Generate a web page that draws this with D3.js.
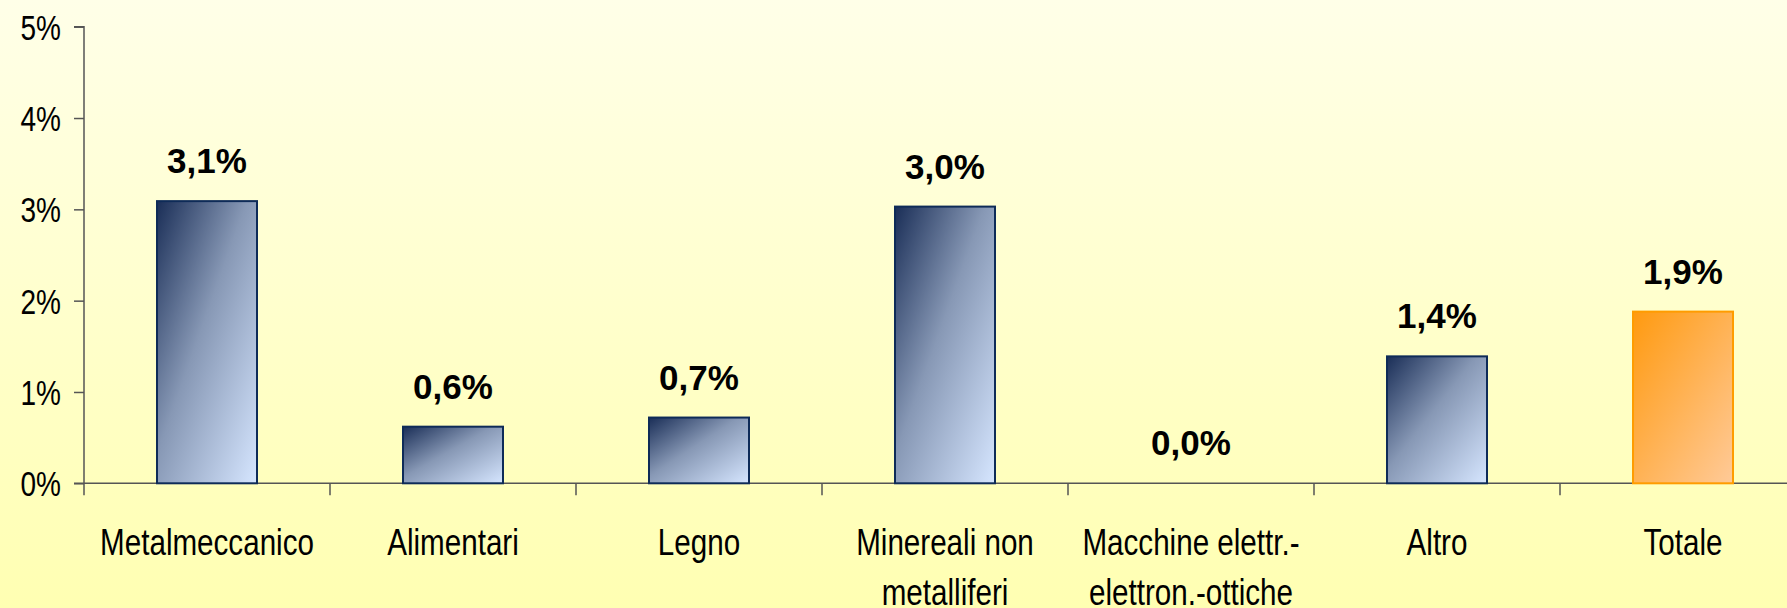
<!DOCTYPE html>
<html><head><meta charset="utf-8">
<script src="https://cdn.jsdelivr.net/npm/d3@7"></script>
<style>
html,body{margin:0;padding:0;background:#FFFFD0;}
svg{display:block;}
</style></head>
<body>
<svg id="chart" width="1787" height="608"></svg>
<script>
const categories = ["Metalmeccanico", "Alimentari", "Legno", "Minereali non\nmetalliferi", "Macchine elettr.-\nelettron.-ottiche", "Altro", "Totale"];
const values = [3.09, 0.62, 0.72, 3.03, 0.0, 1.39, 1.88];
const highlight = [false, false, false, false, false, false, true];
const yTicks = [0, 1, 2, 3, 4, 5];

const W = 1787, H = 608;
const svg = d3.select("#chart");
const defs = svg.append("defs");

const bg = defs.append("linearGradient").attr("id", "bg").attr("x1", 0).attr("y1", 0).attr("x2", 0).attr("y2", 1);
bg.append("stop").attr("offset", "0%").attr("stop-color", "#FFFFE8");
bg.append("stop").attr("offset", "100%").attr("stop-color", "#FFFFB2");

const gb = defs.append("linearGradient").attr("id", "gBlue").attr("x1", 0).attr("y1", 0).attr("x2", 1).attr("y2", 1);
gb.append("stop").attr("offset", "0%").attr("stop-color", "#1A2E57");
gb.append("stop").attr("offset", "45%").attr("stop-color", "#8798B5");
gb.append("stop").attr("offset", "100%").attr("stop-color", "#D6E6FF");

const go = defs.append("linearGradient").attr("id", "gOrange").attr("x1", 0).attr("y1", 0).attr("x2", 1).attr("y2", 1);
go.append("stop").attr("offset", "0%").attr("stop-color", "#FF9A10");
go.append("stop").attr("offset", "100%").attr("stop-color", "#FFCA98");

svg.append("rect").attr("width", W).attr("height", H).attr("fill", "url(#bg)");

const x0 = 84, bandW = 246;
const x = d3.scaleBand().domain(categories).range([x0, x0 + bandW * categories.length]).padding(0);
const y = d3.scaleLinear().domain([0, 5]).range([483.3, 26.7]);
const barW = 100;
const sx = 0.8;

const font = "'Liberation Sans', Arial, sans-serif";

// Y axis
const yAxis = svg.append("g").attr("transform", `translate(${x0},0)`)
  .call(d3.axisLeft(y).tickValues(yTicks).tickSize(10).tickPadding(13).tickFormat(d => d + "%"));
yAxis.select(".domain").attr("stroke", "#555").attr("stroke-width", 1.5).attr("d", `M-10,${y(5)}H0V${y(0) + 12}`);
yAxis.selectAll(".tick line").attr("stroke", "#555").attr("stroke-width", 1.5);
yAxis.selectAll(".tick text").attr("font-family", font).attr("font-size", 35).attr("fill", "#000")
  .attr("dy", "0.36em").attr("x", 0).attr("transform", `translate(-23,0) scale(${sx},1)`);

// X axis line + boundary ticks
const xg = svg.append("g");
xg.append("line").attr("x1", x0 - 10).attr("x2", W).attr("y1", y(0)).attr("y2", y(0)).attr("stroke", "#555").attr("stroke-width", 1.5);
xg.selectAll("line.bt").data(categories.slice(1)).join("line").attr("class", "bt")
  .attr("x1", d => x(d)).attr("x2", d => x(d)).attr("y1", y(0)).attr("y2", y(0) + 12)
  .attr("stroke", "#555").attr("stroke-width", 1.5);

// Bars
svg.selectAll("rect.bar").data(values).join("rect").attr("class", "bar")
  .attr("x", (d, i) => x(categories[i]) + x.bandwidth() / 2 - barW / 2)
  .attr("width", barW)
  .attr("y", d => y(d))
  .attr("height", d => y(0) - y(d))
  .attr("fill", (d, i) => highlight[i] ? "url(#gOrange)" : "url(#gBlue)")
  .attr("stroke", (d, i) => highlight[i] ? "#FF9C00" : "#0E2B58")
  .attr("stroke-width", 2)
  .attr("display", d => d > 0 ? null : "none");

// Value labels
const fmt = d3.format(".1f");
svg.selectAll("text.val").data(values).join("text").attr("class", "val")
  .attr("x", (d, i) => x(categories[i]) + x.bandwidth() / 2)
  .attr("y", d => y(d) - 28)
  .attr("text-anchor", "middle")
  .attr("font-family", font)
  .attr("font-weight", "bold").attr("font-size", 35).attr("fill", "#000")
  .text(d => fmt(d).replace(".", ",") + "%");

// Category labels
const cl = svg.selectAll("text.cat").data(categories).join("text").attr("class", "cat")
  .attr("transform", d => `translate(${x(d) + x.bandwidth() / 2},555) scale(${sx},1)`)
  .attr("text-anchor", "middle")
  .attr("font-family", font).attr("font-size", 37).attr("fill", "#000");
cl.selectAll("tspan").data(d => d.split("\n")).join("tspan")
  .attr("x", 0)
  .attr("dy", (d, i) => i === 0 ? 0 : 50)
  .text(d => d);
</script>
</body></html>
